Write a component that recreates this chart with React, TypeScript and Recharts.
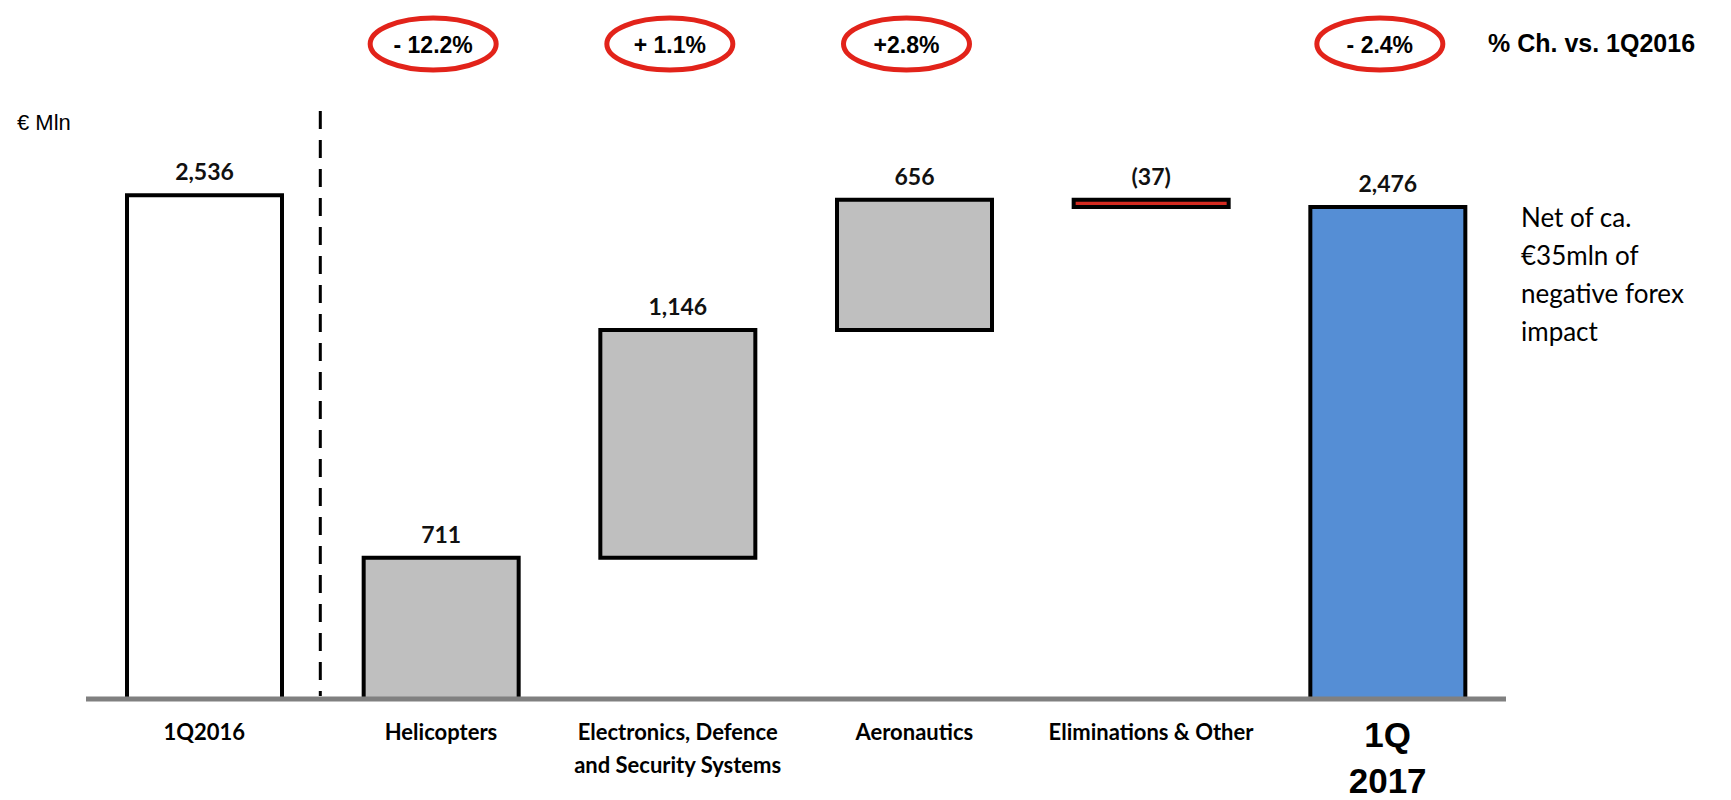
import React from "react";
import { ComposedChart, Bar, XAxis, YAxis, Cell, LabelList, ReferenceLine } from "recharts";

const categories = ["1Q2016", "Helicopters", "Electronics, Defence|and Security Systems", "Aeronautics", "Eliminations & Other", "1Q|2017"];
const values = [2536, 711, 1146, 656, -37, 2476];
// bars that start from zero (totals / first segment)
const fromZero = [true, true, false, false, false, true];
const pctChange = [null, "- 12.2%", "+ 1.1%", "+2.8%", null, "- 2.4%"];
const fills = ["#ffffff", "#bfbfbf", "#bfbfbf", "#bfbfbf", "#d42a20", "#558ed5"];

let running = 0;
const data = values.map((v, i) => {
  const base = fromZero[i] ? 0 : running;
  const top = base + v;
  running = i === 0 ? 0 : top;
  return { idx: i, range: [Math.min(base, top), Math.max(base, top)] };
});

const fmt = (v: number) => (v < 0 ? `(${Math.abs(v).toLocaleString("en-US")})` : v.toLocaleString("en-US"));

function CategoryTick(props: any) {
  const { x, y, payload } = props;
  const lines = categories[payload.value].split("|");
  const big = payload.value === 5;
  return (
    <g>
      {lines.map((l, k) => (
        <text
          key={k}
          x={x}
          y={big ? y + 27 + k * 46 : y + 24 + k * 33}
          textAnchor="middle"
          dominantBaseline="central"
          fontFamily={big ? "'Liberation Sans', Arial, sans-serif" : "Lato, sans-serif"}
          fontWeight="bold"
          fontSize={big ? 35 : 22}
          fill="#000"
        >
          {l}
        </text>
      ))}
    </g>
  );
}

function ValueLabel(props: any) {
  const { x, y, width, index } = props;
  return (
    <text x={x + width / 2} y={y - 24} textAnchor="middle" dominantBaseline="central" fontFamily="Lato, sans-serif" fontWeight="bold" fontSize={23} fill="#111">
      {fmt(values[index])}
    </text>
  );
}

function PctLabel(props: any) {
  const { x, width, index } = props;
  const t = pctChange[index];
  if (!t) return null;
  const cx = x + width / 2 - 8;
  return (
    <g>
      <ellipse cx={cx} cy={44} rx={63} ry={26} fill="none" stroke="#e2231a" strokeWidth={5} />
      <text x={cx} y={45} textAnchor="middle" dominantBaseline="central" fontFamily="'Liberation Sans', Arial, sans-serif" fontWeight="bold" fontSize={23} fill="#000">
        {t}
      </text>
    </g>
  );
}

export default function App() {
  return (
    <div style={{ position: "absolute", left: 0, top: 0, width: 1731, height: 800, background: "#fff", fontFamily: "'Liberation Sans', Arial, sans-serif" }}>
      <ComposedChart width={1731} height={800} data={data} margin={{ top: 103, right: 225, bottom: 0, left: 86 }}>
        <XAxis
          type="number"
          dataKey="idx"
          domain={[-0.5, 5.5]}
          ticks={[0, 1, 2, 3, 4, 5]}
          interval={0}
          tick={<CategoryTick />}
          tickLine={false}
          axisLine={{ stroke: "#808080", strokeWidth: 5 }}
          height={101}
        />
        <YAxis domain={[0, 3000]} width={0} tick={false} tickLine={false} axisLine={{ stroke: "#a6a6a6", strokeWidth: 1.5 }} />
        <ReferenceLine
          segment={[{ x: 0.49, y: 2960 }, { x: 0.49, y: 15 }]}
          stroke="#000"
          strokeWidth={3}
          strokeDasharray="18 11"
        />
        <Bar dataKey="range" barSize={155} stroke="#000" strokeWidth={4} isAnimationActive={false}>
          {data.map((d, i) => (
            <Cell key={i} fill={fills[i]} />
          ))}
          <LabelList dataKey="range" content={<ValueLabel />} />
          <LabelList dataKey="range" content={<PctLabel />} />
        </Bar>
      </ComposedChart>
      <div style={{ position: "absolute", left: 17, top: 110, fontSize: 22, color: "#000" }}>€ Mln</div>
      <div style={{ position: "absolute", left: 1488, top: 29, fontSize: 25, fontWeight: "bold", color: "#000", whiteSpace: "nowrap" }}>% Ch. vs. 1Q2016</div>
      <div style={{ position: "absolute", left: 1521, top: 198, fontSize: 26, lineHeight: "38px", fontFamily: "Lato, sans-serif", color: "#000" }}>
        Net of ca.
        <br />
        €35mln of
        <br />
        negative forex
        <br />
        impact
      </div>
    </div>
  );
}
